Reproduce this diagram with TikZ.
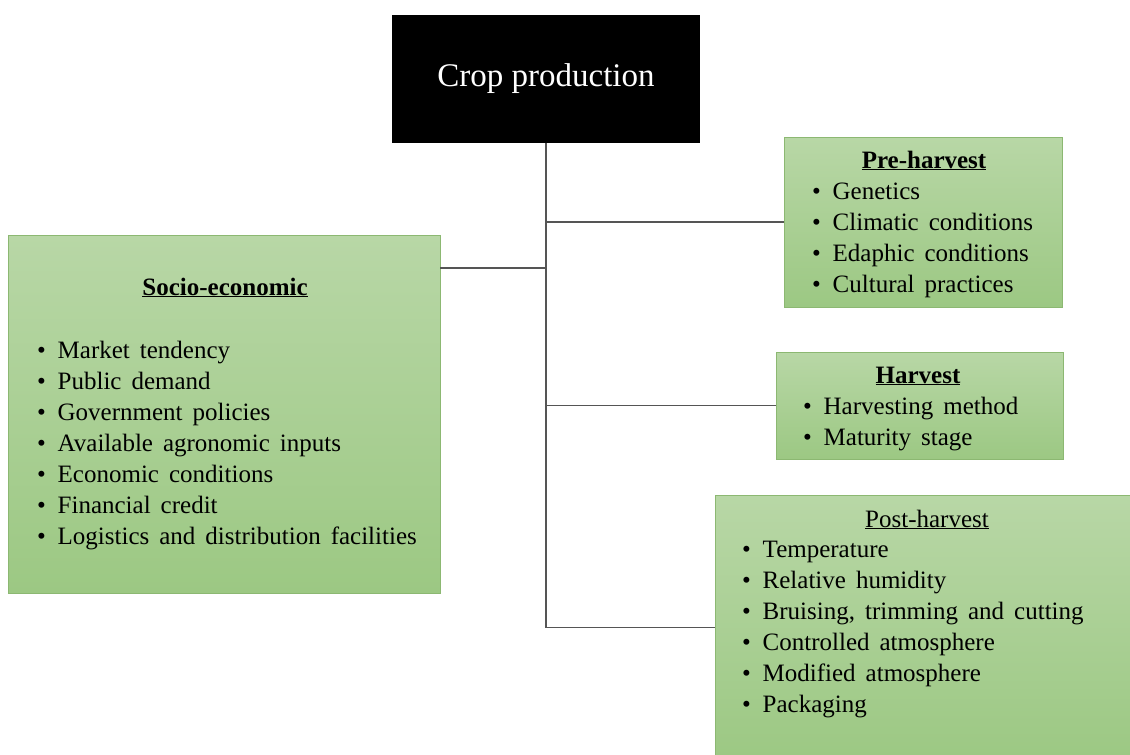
\documentclass[tikz,border=0pt]{standalone}
\usepackage{fontspec}
\setmainfont{Liberation Serif}
\usetikzlibrary{positioning}
\definecolor{boxtop}{RGB}{184,215,166}
\definecolor{boxbot}{RGB}{156,200,131}
\definecolor{boxline}{RGB}{140,184,114}
\definecolor{linkgray}{RGB}{85,85,85}
\newcommand{\itembullet}{\makebox[20.5pt][l]{\textbullet}}
\newcommand{\widespace}{\spaceskip=10pt\relax}

\begin{document}
\begin{tikzpicture}[x=1pt, y=-1pt,
    greenbox/.style={rectangle, draw=boxline, line width=0.8pt, top color=boxtop, bottom color=boxbot, inner sep=0pt},
    boxtitle/.style={anchor=base, inner sep=0pt, font=\fontsize{25}{31}\selectfont},
    boxitem/.style={anchor=base west, inner sep=0pt, font=\fontsize{25}{31}\selectfont\widespace},
    link/.style={draw=linkgray, line width=1.3pt}]
    \useasboundingbox (0,0) rectangle (1130,755);
    \clip (0,0) rectangle (1130,755);

    % top box
    \node[rectangle, fill=black, minimum width=308pt, minimum height=128pt, text=white, font=\fontsize{33}{40}\selectfont] (crop) at (546,79) {Crop production};

    % green boxes
    \node[greenbox, minimum width=432pt, minimum height=358pt] (soc) at (224,414) {};
    \node[greenbox, minimum width=278pt, minimum height=170pt] (pre) at (923,222) {};
    \node[greenbox, minimum width=287pt, minimum height=107pt] (harv) at (919.5,405.5) {};
    \node[greenbox, minimum width=425pt, minimum height=265pt] (post) at (927.5,627.5) {};

    % connectors
    \coordinate (trunkend) at (546,627.5);
    \coordinate (socbranch) at (546,268);
    \draw[link] (crop.south) -- (trunkend) -- (post.west);
    \draw[link] (crop.south |- pre.west) -- (pre.west);
    \draw[link] (crop.south |- harv.west) -- (harv.west);
    \draw[link] (socbranch) -- (socbranch -| soc.east);

    % Socio-economic
    \node[boxtitle] (soc-title) at (225,295) {\textbf{\underline{Socio-economic}}};
    \foreach \t [count=\k from 0] in {Market tendency, Public demand, Government policies, Available agronomic inputs, Economic conditions, Financial credit, Logistics and distribution facilities}
        \node[boxitem] (soc-\k) at (37,358+31*\k) {\itembullet\t};

    % Pre-harvest
    \node[boxtitle] (pre-title) at (924,168) {\textbf{\underline{Pre-harvest}}};
    \foreach \t [count=\k from 0] in {Genetics, Climatic conditions, Edaphic conditions, Cultural practices}
        \node[boxitem] (pre-\k) at (812,199+31*\k) {\itembullet\t};

    % Harvest
    \node[boxtitle] (harv-title) at (918,383) {\textbf{\underline{Harvest}}};
    \foreach \t [count=\k from 0] in {Harvesting method, Maturity stage}
        \node[boxitem] (harv-\k) at (803,414+31*\k) {\itembullet\t};

    % Post-harvest
    \node[boxtitle] (post-title) at (927,527) {\underline{Post-harvest}};
    \foreach \t [count=\k from 0] in {Temperature, Relative humidity, {Bruising, trimming and cutting}, Controlled atmosphere, Modified atmosphere, Packaging}
        \node[boxitem] (post-\k) at (742,557+31*\k) {\itembullet\t};
\end{tikzpicture}
\end{document}
